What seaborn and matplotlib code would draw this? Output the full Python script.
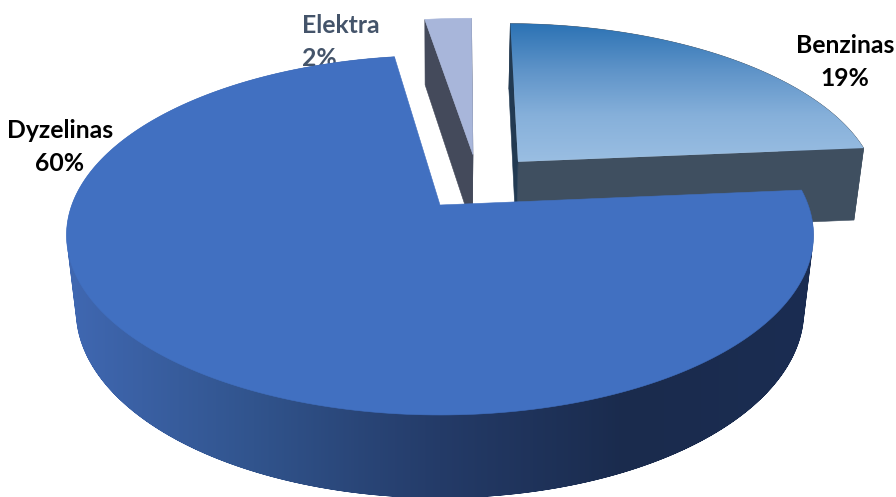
import matplotlib
matplotlib.use("Agg")
import matplotlib.pyplot as plt
import numpy as np
import seaborn as sns
from matplotlib.patches import Polygon, PathPatch
from matplotlib.path import Path

# Fuel type shares (percent)
fuel_names = ["Dyzelinas", "Benzinas", "Elektra"]
fuel_shares = [60, 19, 2]
label_colors = ["#000000", "#000000", "#44546A"]
label_anchor = [(60, 147), (845, 62), (302, 42)]
label_align = ["center", "center", "left"]

# Projection of the tilted disc onto the canvas, in pixels
APEX_X, APEX_Y = 440, 205
SCALE_U, SCALE_V = 368.2, 174.7
PERSPECTIVE = 0.168
DEPTH, DEPTH_PERSPECTIVE = 76.5, 0.025

sns.set_theme(style="white")
plt.rcParams["font.family"] = ["Lato", "DejaVu Sans"]

fig = plt.figure(figsize=(8.96, 4.97), dpi=100)
ax = fig.add_axes([0, 0, 1, 1])

# The pie supplies each slice's angles and explosion offset
wedges, _ = ax.pie(fuel_shares, explode=[0.17, 0.17, 0.17], startangle=98.3,
                   counterclock=True, radius=1.0)
origin = np.array(wedges[0].center)
for wedge in wedges:
    wedge.set_visible(False)


def project(u, v, z=0.0):
    """Map disc coordinates (z=0 top face, z=1 bottom face) to pixels."""
    w = 1 + PERSPECTIVE * v + DEPTH_PERSPECTIVE * z
    return np.column_stack([APEX_X + SCALE_U * u / w,
                            APEX_Y + (-SCALE_V * v + DEPTH * z) / w])


def wedge_outline(wedge):
    """Apex and rim of a slice in disc coordinates."""
    angles = np.radians(np.linspace(wedge.theta1, wedge.theta2, 240))
    cx, cy = np.array(wedge.center) - origin
    rim_u = cx + wedge.r * np.cos(angles)
    rim_v = cy + wedge.r * np.sin(angles)
    return (cx, cy), rim_u, rim_v


def oriented(quad):
    """Give a polygon positive winding so overlapping pieces never cancel."""
    x, y = quad[:, 0], quad[:, 1]
    area = np.sum(x * np.roll(y, -1) - np.roll(x, -1) * y)
    return quad if area > 0 else quad[::-1]


def strip_path(u, v, extra=None):
    """Compound path of the rim wall, built from one quad per rim step."""
    top, low = project(u, v, 0), project(u, v, 1)
    pieces = [oriented(np.array([top[i], top[i + 1], low[i + 1], low[i]]))
              for i in range(len(u) - 1)]
    if extra is not None:
        pieces.append(oriented(extra))
    return Path.make_compound_path(*[Path(np.vstack([p, p[0]]), closed=True) for p in pieces])


def gradient_fill(path, cmap, vertical, zorder):
    """Fill a path with a linear gradient clipped to its outline."""
    (x0, y0), (x1, y1) = path.get_extents().get_points()
    ramp = np.linspace(0, 1, 256)
    grid = ramp[:, None] if vertical else ramp[None, :]
    image = ax.imshow(grid, cmap=cmap, vmin=0, vmax=1, aspect="auto",
                      extent=(x0, x1, y1, y0), zorder=zorder, origin="upper",
                      interpolation="bilinear")
    clip = PathPatch(path, transform=ax.transData, fc="none", ec="none")
    ax.add_patch(clip)
    image.set_clip_path(clip)


def flat(points, color, zorder):
    ax.add_patch(Polygon(points, closed=True, fc=color, ec=color, lw=0.4, zorder=zorder))


def cut_face(apex, u, v):
    us = np.array([apex[0], u])
    vs = np.array([apex[1], v])
    return np.vstack([project(us, vs, 0), project(us, vs, 1)[::-1]])


main_side_cmap = sns.blend_palette(["#4068B2", "#31548D", "#243B68", "#1A2B4D", "#1B2D52"],
                                   as_cmap=True)
benzinas_top_cmap = sns.blend_palette(["#2B72B4", "#5E93C8", "#86B0DA", "#9ABEE2"], as_cmap=True)

# Elektra sits furthest back
apex, u, v = wedge_outline(wedges[2])
flat(cut_face(apex, u[-1], v[-1]), "#444A5B", 2)
flat(cut_face(apex, u[0], v[0]), "#444A5B", 2)
flat(project(np.r_[apex[0], u], np.r_[apex[1], v]), "#A8B6DA", 3)

# Benzinas
apex, u, v = wedge_outline(wedges[1])
flat(np.vstack([project(u, v, 0), project(u, v, 1)[::-1]]), "#3F4F60", 4)
flat(cut_face(apex, u[0], v[0]), "#3F4F60", 4)
flat(cut_face(apex, u[-1], v[-1]), "#223A52", 4)
top_face = project(np.r_[apex[0], u], np.r_[apex[1], v])
gradient_fill(Path(np.vstack([top_face, top_face[0]]), closed=True), benzinas_top_cmap, True, 5)

# Labels stay behind the large slice
for name, share, color, (x, y), align in zip(fuel_names, fuel_shares, label_colors,
                                             label_anchor, label_align):
    ax.text(x, y, f"{name}\n{share}%", color=color, ha=align, va="center", multialignment=align,
            fontsize=17.8, fontweight="bold", linespacing=1.52, zorder=6)

# Dyzelinas in front
apex, u, v = wedge_outline(wedges[0])
bottom_face = project(np.r_[apex[0], u], np.r_[apex[1], v], 1)
gradient_fill(strip_path(u, v, extra=bottom_face), main_side_cmap, False, 7)
flat(project(np.r_[apex[0], u], np.r_[apex[1], v]), "#4170C1", 8)

ax.set_xlim(0, 896)
ax.set_ylim(497, 0)
ax.set_aspect("auto")
ax.axis("off")
fig.savefig("out.png", dpi=100, facecolor="white")
